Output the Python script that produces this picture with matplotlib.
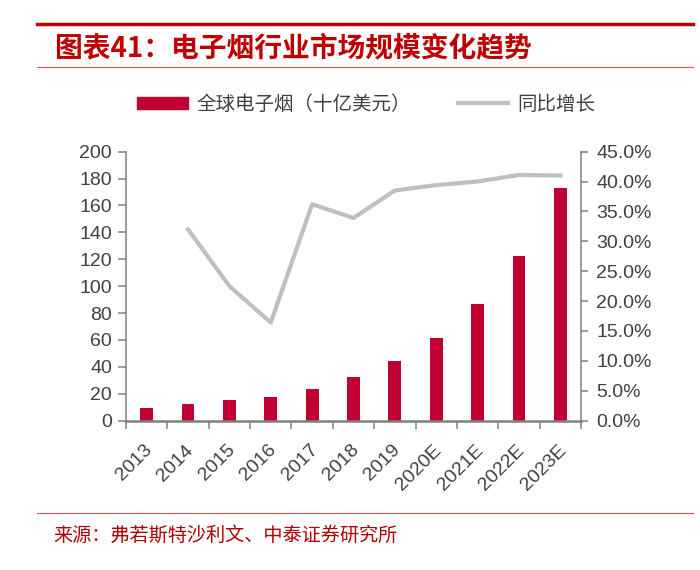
import numpy as np
import matplotlib.pyplot as plt
from matplotlib.patches import Patch
from matplotlib.lines import Line2D
from matplotlib.ticker import FuncFormatter
from matplotlib.transforms import ScaledTranslation

plt.rcParams['font.family'] = ['Liberation Sans', 'Noto Sans CJK SC', 'DejaVu Sans']

# 数据
years = ['2013', '2014', '2015', '2016', '2017', '2018', '2019',
         '2020E', '2021E', '2022E', '2023E']
market = [9.2, 12.1, 15.1, 17.5, 23.7, 32.1, 44.4, 61.7, 86.7, 122.2, 172.6]
growth = [np.nan, 32.0, 22.5, 16.4, 36.2, 33.9, 38.5, 39.4, 40.0, 41.1, 41.0]

bar_color = '#C00030'
line_color = '#BFBFBF'
axis_color = '#808080'
text_color = '#404040'
red = '#C00000'

fig = plt.figure(figsize=(7, 5.7), dpi=100)
ax = fig.add_axes([0.18, 0.262, 0.65, 0.472])
ax2 = ax.twinx()

x = np.arange(len(years))
ax.bar(x, market, width=0.31, color=bar_color)
ax2.plot(x, growth, color=line_color, linewidth=3)

ax.set_xlim(-0.5, len(years) - 0.5)
ax.set_ylim(0, 200)
ax.set_yticks(np.arange(0, 201, 20))
ax2.set_ylim(0, 45)
ax2.set_yticks(np.arange(0, 45.1, 5))
ax2.yaxis.set_major_formatter(FuncFormatter(lambda v, p: f'{v:.1f}%'))

# 坐标轴样式
for a in (ax, ax2):
    a.spines['top'].set_visible(False)
ax.spines['right'].set_visible(False)
ax2.spines['left'].set_visible(False)
ax2.spines['bottom'].set_visible(False)
ax.spines['left'].set_color(axis_color)
ax.spines['left'].set_linewidth(1.1)
ax.spines['bottom'].set_color(axis_color)
ax.spines['bottom'].set_linewidth(1.8)
ax2.spines['right'].set_color(axis_color)
ax2.spines['right'].set_linewidth(1.1)

ax.set_xticks(x)
ax.set_xticklabels(years, rotation=45, ha='right')
ax.set_xticks(np.arange(-0.5, len(years), 1), minor=True)
ax.tick_params(axis='x', which='major', length=0, pad=15, labelsize=14, labelcolor=text_color)
ax.tick_params(axis='x', which='minor', length=6, width=1.1, color=axis_color, direction='out')
ax.tick_params(axis='y', length=6, width=1.1, color=axis_color, labelsize=14,
               labelcolor=text_color, pad=4)
ax2.tick_params(axis='y', length=5, width=1.1, color=axis_color, labelsize=14,
                labelcolor=text_color, pad=6)
shift = ScaledTranslation(0.09, 0, fig.dpi_scale_trans)
for lab in ax.get_xticklabels():
    lab.set_transform(lab.get_transform() + shift)

# 图例
handles = [Patch(color=bar_color), Line2D([0], [0], color=line_color, linewidth=3)]
labels = ['全球电子烟（十亿美元）', '同比增长']
fig.legend(handles, labels, loc='center', bbox_to_anchor=(0.523, 0.8175), ncol=2,
           frameon=False, prop={'family': ['Noto Sans CJK SC'], 'size': 14},
           labelcolor=text_color, handlelength=2.6, handleheight=0.55,
           handletextpad=0.45, columnspacing=2.4)

# 标题与来源
fig.add_artist(Line2D([37 / 700, 693 / 700], [1 - 24 / 570] * 2, color=red,
                      linewidth=2.5, transform=fig.transFigure))
fig.add_artist(Line2D([37 / 700, 693 / 700], [1 - 67 / 570] * 2, color='#D9534F',
                      linewidth=0.8, transform=fig.transFigure))
fig.text(55 / 700, 1 - 48 / 570, '图表41：电子烟行业市场规模变化趋势', color=red,
         fontsize=20, fontweight='bold', va='center', ha='left',
         family=['Noto Sans CJK SC', 'DejaVu Sans'])
fig.add_artist(Line2D([37 / 700, 693 / 700], [1 - 513 / 570] * 2, color='#D9534F',
                      linewidth=0.8, transform=fig.transFigure))
fig.text(53 / 700, 1 - 535 / 570, '来源：弗若斯特沙利文、中泰证券研究所', color='#B00000',
         fontsize=13.8, va='center', ha='left', family=['Noto Sans CJK SC'])

fig.savefig('out.png', dpi=100)
